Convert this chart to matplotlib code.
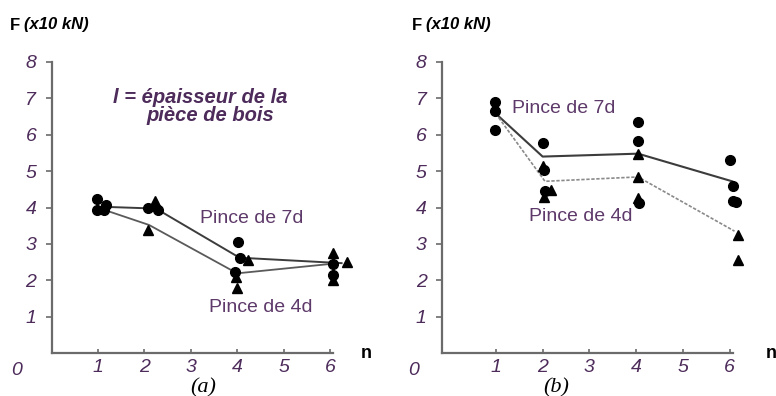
import matplotlib.pyplot as plt

# ---------------------------------------------------------------
# DATA
# ---------------------------------------------------------------

# panel (a)
a_circle_n = [0.97, 0.97, 1.13, 1.18, 2.08, 2.30, 4.02, 4.06, 3.96, 6.07, 6.07]
a_circle_F = [4.22, 3.92, 3.92, 4.08, 4.00, 3.93, 3.06, 2.60, 2.22, 2.46, 2.15]
a_tri_n = [2.23, 2.08, 4.24, 3.98, 4.00, 6.07, 6.36, 6.07]
a_tri_F = [4.18, 3.38, 2.55, 2.08, 1.78, 2.74, 2.49, 2.00]
a_7d_n = [1.10, 2.25, 4.05, 6.25]
a_7d_F = [4.02, 3.97, 2.62, 2.47]
a_4d_n = [1.10, 2.10, 4.00, 6.10]
a_4d_F = [3.95, 3.52, 2.19, 2.46]

# panel (b)
b_circle_n = [0.98, 0.98, 0.98, 2.00, 2.02, 2.05, 4.04, 4.04, 4.06, 6.01, 6.06, 6.06, 6.14]
b_circle_F = [6.90, 6.64, 6.12, 5.78, 5.04, 4.45, 6.34, 5.84, 4.11, 5.30, 4.59, 4.18, 4.14]
b_tri_n = [2.00, 2.18, 2.02, 4.04, 4.04, 4.04, 6.17, 6.18]
b_tri_F = [5.15, 4.48, 4.30, 5.48, 4.84, 4.27, 3.24, 2.55]
b_7d_n = [1.00, 2.00, 4.04, 6.05]
b_7d_F = [6.58, 5.40, 5.48, 4.72]
b_4d_n = [1.00, 2.05, 4.04, 6.10]
b_4d_F = [6.58, 4.72, 4.84, 3.35]

x_ticks = [1, 2, 3, 4, 5, 6]
y_ticks = [1, 2, 3, 4, 5, 6, 7, 8]

# ---------------------------------------------------------------
# STYLE
# ---------------------------------------------------------------

PURPLE = "#4d2b5a"
LABEL_PURPLE = "#5e3a6a"
AXIS_GREY = "#6b6b6b"
SANS = "Liberation Sans"

W, H = 776, 396
fig = plt.figure(figsize=(W / 100, H / 100), dpi=100)


def style_axes(ax, x0):
    for side in ["top", "right"]:
        ax.spines[side].set_visible(False)
    for side in ["left", "bottom"]:
        ax.spines[side].set_color(AXIS_GREY)
        ax.spines[side].set_linewidth(1.6)
    ax.spines["bottom"].set_bounds(x0, 6.06)
    ax.spines["left"].set_bounds(0, 8)
    ax.set_ylim(0, 8)
    ax.set_xticks(x_ticks)
    ax.set_yticks(y_ticks)
    ax.tick_params(axis="x", direction="in", length=3, width=1.2,
                   color=AXIS_GREY, pad=4)
    ax.tick_params(axis="y", direction="out", length=4, width=1.2,
                   color=AXIS_GREY, pad=7)
    for lab in ax.get_xticklabels() + ax.get_yticklabels():
        lab.set_fontfamily(SANS)
        lab.set_fontstyle("italic")
        lab.set_fontsize(14)
        lab.set_color(PURPLE)
    ax.patch.set_alpha(0)
    # origin label
    ax.text(-0.75, -0.47, "0", fontsize=14, fontstyle="italic",
            family=SANS, color=PURPLE, ha="center", va="center",
            clip_on=False)


def draw_points(ax, cn, cF, tn, tF):
    ax.plot(cn, cF, "o", color="black", ms=7, zorder=4, clip_on=False)
    ax.plot(tn, tF, "^", color="black", ms=7, zorder=4, clip_on=False)


# ---------------------------------------------------------------
# PANEL (a)
# ---------------------------------------------------------------

ax1 = fig.add_axes([51.6 / W, 43 / H, 7 * 46.4 / W, 291 / H])
ax1.set_xlim(0, 7)
style_axes(ax1, 0)
ax1.plot(a_7d_n, a_7d_F, color="#3c3c3c", lw=1.4, zorder=3, clip_on=False)
ax1.plot(a_4d_n, a_4d_F, color="#5a5a5a", lw=1.3, zorder=3, clip_on=False)
draw_points(ax1, a_circle_n, a_circle_F, a_tri_n, a_tri_F)

ax1.text(1.32, 7.03, "l = épaisseur de la", fontsize=14.5, fontweight="bold",
         fontstyle="italic", family=SANS, color=PURPLE, va="center")
ax1.text(2.05, 6.52, "pièce de bois", fontsize=14.5, fontweight="bold",
         fontstyle="italic", family=SANS, color=PURPLE, va="center")
ax1.text(3.2, 3.7, "Pince de 7d", fontsize=14, family=SANS,
         color=LABEL_PURPLE, va="center")
ax1.text(3.4, 1.25, "Pince de 4d", fontsize=14, family=SANS,
         color=LABEL_PURPLE, va="center")

# ---------------------------------------------------------------
# PANEL (b)
# ---------------------------------------------------------------

ax2 = fig.add_axes([442 / W, 43 / H, 7 * 46.8 / W, 291 / H])
ax2.set_xlim(-0.15, 6.85)
style_axes(ax2, -0.15)
ax2.plot(b_7d_n, b_7d_F, color="#3c3c3c", lw=1.5, zorder=3, clip_on=False)
ax2.plot(b_4d_n, b_4d_F, color="#8a8a8a", lw=1.2, ls=(0, (2, 1)),
         zorder=3, clip_on=False)
draw_points(ax2, b_circle_n, b_circle_F, b_tri_n, b_tri_F)

ax2.text(1.35, 6.72, "Pince de 7d", fontsize=14, family=SANS,
         color=LABEL_PURPLE, va="center")
ax2.text(1.7, 3.75, "Pince de 4d", fontsize=14, family=SANS,
         color=LABEL_PURPLE, va="center")

# ---------------------------------------------------------------
# FIGURE TEXTS
# ---------------------------------------------------------------

for x in [10, 412]:
    fig.text(x / W, 1 - 25 / H, "F", fontsize=12, fontweight="bold",
             family=SANS, va="center")
    fig.text((x + 14) / W, 1 - 25 / H, "(x10 kN)", fontsize=12,
             fontweight="bold", fontstyle="italic", family=SANS, va="center")

fig.text(366 / W, 1 - 353 / H, "n", fontsize=13, fontweight="bold",
         family=SANS, ha="center", va="center")
fig.text(771 / W, 1 - 353 / H, "n", fontsize=13, fontweight="bold",
         family=SANS, ha="center", va="center")

# panel captions, low enough to leave the "3" tick label readable
fig.text(203 / W, -1 / H, "(a)", fontsize=16, fontstyle="italic",
         family="Liberation Serif", ha="center", va="bottom")
fig.text(556 / W, -1 / H, "(b)", fontsize=16, fontstyle="italic",
         family="Liberation Serif", ha="center", va="bottom")

fig.savefig("out.png", dpi=100, facecolor="white")
